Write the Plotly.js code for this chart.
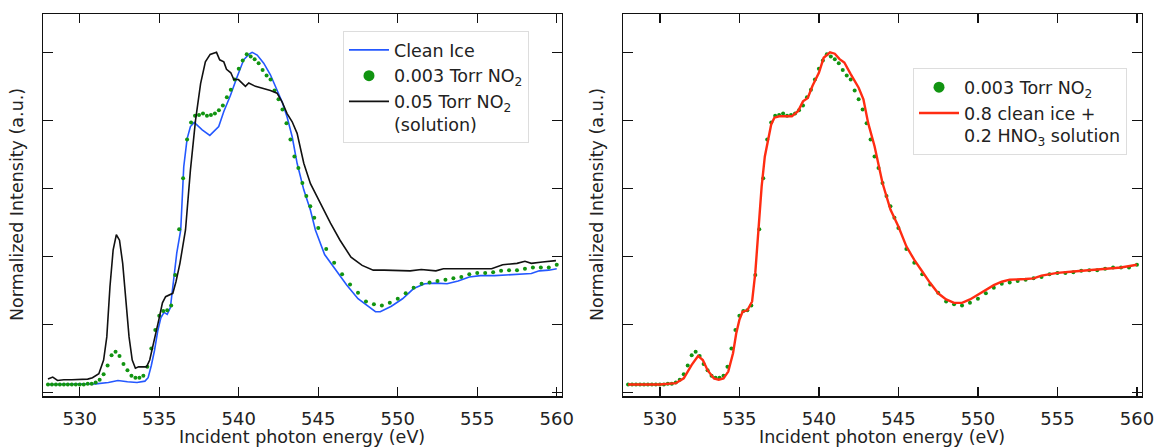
<!DOCTYPE html>
<html>
<head>
<meta charset="utf-8">
<script src="https://cdn.plot.ly/plotly-3.0.1.min.js"></script>
<style>
html,body{margin:0;padding:0;background:#fff;}
#chart{width:1156px;height:447px;}
</style>
</head>
<body>
<div id="chart"></div>
<script>
// ---------- data ----------
// Clean ice (blue line)
const iceE = [528, 529, 530, 531, 531.8, 532.4, 533, 533.6, 534.1, 534.3, 534.5, 534.7, 534.9, 535.1, 535.3, 535.5, 535.7, 535.9, 536.1, 536.35, 536.54, 536.75, 536.96, 537.2, 537.7, 538.18, 538.74, 539.06, 539.48, 539.9, 540.31, 540.63, 540.84, 541.16, 541.57, 541.99, 542.41, 542.73, 543.04, 543.36, 543.67, 544.09, 544.51, 544.82, 545.4, 546.1, 546.8, 547.5, 548.2, 548.6, 548.9, 549.6, 550.3, 551, 551.7, 552.4, 553.1, 553.8, 554.5, 555.2, 556.1, 557, 558, 558.4, 558.9, 559.5, 560];
const iceI = [0.12, 0.12, 0.12, 0.13, 0.15, 0.18, 0.16, 0.15, 0.17, 0.22, 0.40, 0.62, 0.90, 1.10, 1.18, 1.15, 1.25, 1.62, 2.05, 2.39, 3.32, 3.73, 3.91, 3.97, 3.86, 3.78, 3.91, 4.13, 4.37, 4.64, 4.89, 4.97, 5.0, 4.96, 4.84, 4.67, 4.44, 4.27, 4.05, 3.76, 3.37, 2.98, 2.68, 2.39, 2.03, 1.80, 1.58, 1.38, 1.26, 1.19, 1.19, 1.27, 1.38, 1.53, 1.60, 1.61, 1.60, 1.64, 1.70, 1.72, 1.72, 1.73, 1.74, 1.75, 1.79, 1.80, 1.82];

// 0.05 Torr NO2 (solution) (black line)
const solE = [528, 528.3, 528.6, 529, 529.5, 530, 530.5, 530.8, 531.2, 531.5, 531.7, 531.9, 532.1, 532.3, 532.5, 532.7, 532.9, 533.1, 533.3, 533.5, 533.7, 534.2, 534.4, 534.66, 534.97, 535.2, 535.4, 535.85, 536.05, 536.3, 536.65, 536.96, 537.28, 537.6, 537.9, 538.2, 538.6, 538.8, 539.06, 539.23, 539.5, 539.69, 539.98, 540.42, 540.63, 541.05, 541.57, 541.99, 542.41, 542.73, 543.04, 543.36, 543.67, 544.09, 544.51, 545.14, 545.77, 546.37, 547.06, 547.76, 548.46, 549.15, 550.08, 550.78, 551.48, 552.4, 552.87, 554.03, 555.2, 555.9, 556.6, 557.5, 558.0, 558.4, 559.1, 559.95];
const solI = [0.20, 0.23, 0.18, 0.19, 0.19, 0.20, 0.20, 0.22, 0.28, 0.48, 0.82, 1.56, 2.10, 2.32, 2.24, 1.90, 1.36, 0.82, 0.48, 0.36, 0.38, 0.38, 0.48, 0.73, 1.07, 1.32, 1.41, 1.46, 1.63, 1.90, 2.39, 3.27, 4.00, 4.54, 4.86, 4.97, 5.0, 4.89, 4.86, 4.75, 4.70, 4.60, 4.60, 4.50, 4.55, 4.50, 4.47, 4.44, 4.40, 4.27, 4.10, 3.98, 3.81, 3.37, 3.07, 2.78, 2.49, 2.24, 1.99, 1.87, 1.80, 1.80, 1.80, 1.79, 1.81, 1.79, 1.82, 1.82, 1.83, 1.82, 1.88, 1.90, 1.93, 1.90, 1.92, 1.94];

// 0.003 Torr NO2 (green dots, same data in both panels)
const no2E = [528, 528.25, 528.5, 528.75, 529, 529.25, 529.5, 529.75, 530, 530.25, 530.5, 530.75, 531, 531.25, 531.5, 531.75, 532, 532.25, 532.5, 532.75, 533, 533.25, 533.5, 533.75, 534, 534.25, 534.5, 534.75, 535, 535.25, 535.5, 535.75, 536, 536.25, 536.5, 536.75, 537, 537.25, 537.5, 537.75, 538, 538.25, 538.5, 538.75, 539, 539.25, 539.5, 539.75, 540, 540.25, 540.5, 540.75, 541, 541.25, 541.5, 541.75, 542, 542.25, 542.5, 542.75, 543, 543.25, 543.5, 543.75, 544, 544.25, 544.5, 544.75, 545, 545.5, 546, 546.5, 547, 547.5, 548, 548.5, 549, 549.5, 550, 550.5, 551, 551.5, 552, 552.5, 553, 553.5, 554, 554.5, 555, 555.5, 556, 556.5, 557, 557.5, 558, 558.5, 559, 559.5, 560];
const no2I = [0.12, 0.12, 0.12, 0.12, 0.12, 0.12, 0.12, 0.12, 0.12, 0.12, 0.13, 0.13, 0.15, 0.19, 0.27, 0.40, 0.55, 0.60, 0.54, 0.42, 0.33, 0.25, 0.22, 0.22, 0.25, 0.38, 0.65, 0.92, 1.13, 1.20, 1.21, 1.28, 1.73, 2.40, 3.15, 3.72, 3.97, 4.07, 4.08, 4.10, 4.07, 4.08, 4.10, 4.15, 4.22, 4.34, 4.45, 4.60, 4.76, 4.88, 4.97, 4.94, 4.90, 4.84, 4.74, 4.66, 4.60, 4.44, 4.31, 4.16, 3.96, 3.72, 3.47, 3.30, 3.08, 2.89, 2.74, 2.57, 2.42, 2.11, 1.91, 1.74, 1.59, 1.47, 1.34, 1.30, 1.28, 1.32, 1.38, 1.46, 1.54, 1.60, 1.62, 1.64, 1.66, 1.68, 1.70, 1.74, 1.76, 1.76, 1.77, 1.79, 1.80, 1.80, 1.82, 1.84, 1.84, 1.84, 1.88];

// 0.8 clean ice + 0.2 HNO3 solution (red line)
const mixE = [528, 530, 531, 531.5, 532, 532.4, 532.7, 533, 533.4, 533.7, 534, 534.3, 534.6, 534.8, 535, 535.2, 535.5, 535.8, 536, 536.2, 536.4, 536.6, 536.8, 537, 537.2, 537.5, 538, 538.3, 538.7, 539, 539.3, 539.6, 540, 540.3, 540.7, 541, 541.3, 541.6, 542, 542.5, 542.8, 543.1, 543.5, 544, 544.5, 545, 545.5, 546, 546.5, 547, 547.5, 548, 548.5, 549, 549.5, 550, 550.5, 551, 551.5, 552, 553, 553.5, 554, 555, 556, 557, 558, 558.5, 559, 560];
const mixI = [0.12, 0.12, 0.14, 0.21, 0.41, 0.54, 0.48, 0.33, 0.21, 0.19, 0.21, 0.31, 0.58, 0.87, 1.07, 1.19, 1.21, 1.34, 1.76, 2.35, 3.03, 3.47, 3.72, 3.94, 4.04, 4.06, 4.06, 4.06, 4.14, 4.28, 4.33, 4.51, 4.70, 4.92, 5.0, 4.98, 4.90, 4.85, 4.68, 4.48, 4.31, 3.96, 3.62, 3.08, 2.69, 2.44, 2.15, 1.95, 1.78, 1.61, 1.46, 1.37, 1.32, 1.32, 1.37, 1.44, 1.51, 1.58, 1.63, 1.66, 1.67, 1.68, 1.72, 1.76, 1.78, 1.80, 1.81, 1.83, 1.84, 1.88];

const xTicks = [530, 535, 540, 545, 550, 555, 560];
const yTicks = [0, 1, 2, 3, 4, 5];

// ---------- styling ----------
const FONT = 'DejaVu Sans, Verdana, sans-serif';
const C_BLUE = '#2458ff', C_GREEN = '#119411', C_BLACK = '#111111', C_RED = '#ff2c12';
const NO2_NAME = '0.003 Torr NO<sub>2</sub>';

const traces = [
  {x: iceE, y: iceI, type: 'scatter', mode: 'lines', name: 'Clean Ice',
   line: {color: C_BLUE, width: 1.6}, xaxis: 'x', yaxis: 'y', legend: 'legend', legendrank: 1},
  {x: no2E, y: no2I, type: 'scatter', mode: 'markers', name: NO2_NAME, showlegend: false,
   marker: {color: C_GREEN, size: 4}, xaxis: 'x', yaxis: 'y'},
  // legend key only (larger dot, as in the reference legend)
  {x: [null], y: [null], type: 'scatter', mode: 'markers', name: NO2_NAME,
   marker: {color: C_GREEN, size: 11}, xaxis: 'x', yaxis: 'y', legend: 'legend', legendrank: 2},
  {x: solE, y: solI, type: 'scatter', mode: 'lines', name: '0.05 Torr NO<sub>2</sub><br>(solution)',
   line: {color: C_BLACK, width: 1.6}, xaxis: 'x', yaxis: 'y', legend: 'legend', legendrank: 3},
  {x: no2E, y: no2I, type: 'scatter', mode: 'markers', name: NO2_NAME, showlegend: false,
   marker: {color: C_GREEN, size: 4}, xaxis: 'x2', yaxis: 'y2'},
  {x: [null], y: [null], type: 'scatter', mode: 'markers', name: NO2_NAME,
   marker: {color: C_GREEN, size: 11}, xaxis: 'x2', yaxis: 'y2', legend: 'legend2', legendrank: 1},
  {x: mixE, y: mixI, type: 'scatter', mode: 'lines', name: '0.8 clean ice +<br>0.2 HNO<sub>3</sub> solution',
   line: {color: C_RED, width: 2.4}, xaxis: 'x2', yaxis: 'y2', legend: 'legend2', legendrank: 2}
];

function xax(domain, anchor) {
  return {domain: domain, anchor: anchor, range: [527.7, 560.3], tickvals: xTicks,
    ticktext: xTicks.map(String), ticks: 'inside', ticklen: 9, tickwidth: 1.3, tickcolor: '#111',
    showline: true, linecolor: '#111', linewidth: 1.4, mirror: 'ticks', showgrid: false, zeroline: false,
    tickfont: {family: FONT, size: 18, color: '#222'}, ticklabelstandoff: 6};
}
function yax(anchor) {
  return {domain: [0.1134, 0.9676], anchor: anchor, range: [-0.053, 5.556], tickvals: yTicks,
    showticklabels: false, ticks: 'inside', ticklen: 10, tickwidth: 1.3, tickcolor: '#111',
    showline: true, linecolor: '#111', linewidth: 1.4, mirror: 'ticks', showgrid: false, zeroline: false};
}
const legendBase = {bgcolor: '#fff', bordercolor: '#dddddd', borderwidth: 1,
  font: {family: FONT, size: 17.5, color: '#222'}, xanchor: 'left', yanchor: 'top',
  valign: 'top', itemwidth: 40, tracegroupgap: 0, traceorder: 'normal'};

const titleFont = {family: FONT, size: 17.5, color: '#222'};
const layout = {
  width: 1156, height: 447, margin: {l: 0, r: 0, t: 0, b: 0},
  paper_bgcolor: '#fff', plot_bgcolor: '#fff', showlegend: true,
  xaxis: xax([0.03737, 0.48573], 'y'),
  yaxis: yax('x'),
  xaxis2: xax([0.53919, 0.98763], 'y2'),
  yaxis2: yax('x2'),
  legend: Object.assign({}, legendBase, {x: 0.2967, y: 0.9306}),
  legend2: Object.assign({}, legendBase, {x: 0.7898, y: 0.8472}),
  annotations: [
    {text: 'Incident photon energy (eV)', xref: 'paper', yref: 'paper', x: 0.2615, y: 1 - 437/447,
     xanchor: 'center', yanchor: 'middle', showarrow: false, font: titleFont},
    {text: 'Incident photon energy (eV)', xref: 'paper', yref: 'paper', x: 0.7634, y: 1 - 437/447,
     xanchor: 'center', yanchor: 'middle', showarrow: false, font: titleFont},
    {text: 'Normalized Intensity (a.u.)', xref: 'paper', yref: 'paper', x: 17/1156, y: 1 - 205/447,
     xanchor: 'center', yanchor: 'middle', textangle: -90, showarrow: false, font: titleFont},
    {text: 'Normalized Intensity (a.u.)', xref: 'paper', yref: 'paper', x: 597/1156, y: 1 - 205/447,
     xanchor: 'center', yanchor: 'middle', textangle: -90, showarrow: false, font: titleFont}
  ]
};

Plotly.newPlot('chart', traces, layout, {displayModeBar: false, staticPlot: true});
</script>
</body>
</html>
